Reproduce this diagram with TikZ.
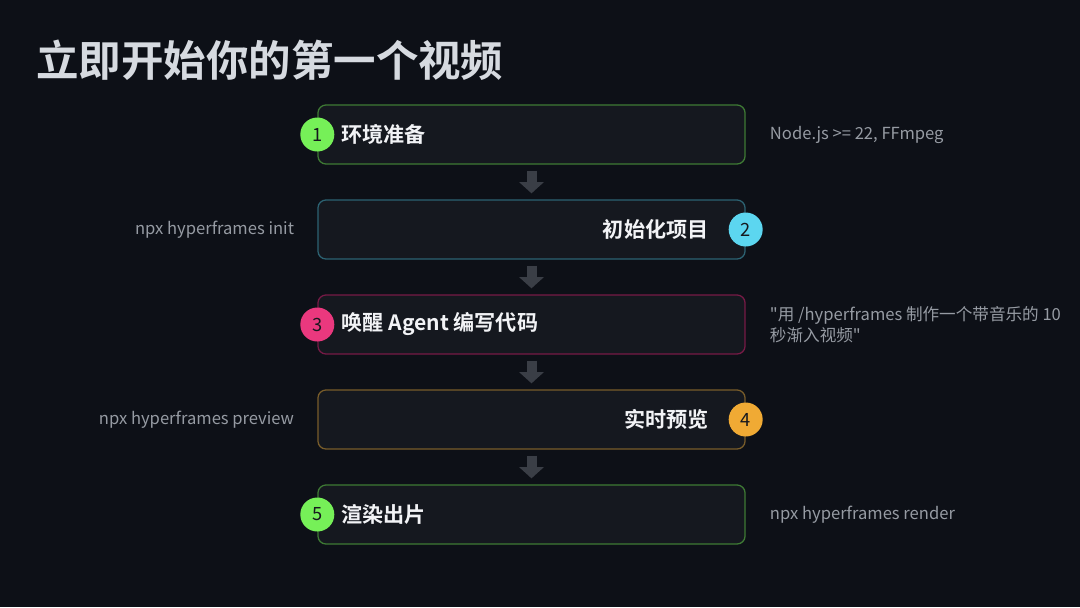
\documentclass[tikz,border=0pt]{standalone}
\usepackage{fontspec}
\setmainfont{Noto Sans CJK SC}[BoldFont={Noto Sans CJK SC Bold}]
\newfontfamily\notefont{Noto Sans CJK SC}
\usetikzlibrary{positioning,arrows.meta}

\definecolor{bgc}{RGB}{13,16,23}
\definecolor{boxc}{RGB}{21,24,31}
\definecolor{bdgreen}{RGB}{62,122,52}
\definecolor{bdteal}{RGB}{44,98,114}
\definecolor{bdpink}{RGB}{118,26,70}
\definecolor{bdgold}{RGB}{120,92,42}
\definecolor{cgreen}{RGB}{118,240,88}
\definecolor{ccyan}{RGB}{92,214,240}
\definecolor{cpink}{RGB}{234,56,126}
\definecolor{cgold}{RGB}{240,170,52}
\definecolor{flowc}{RGB}{58,62,70}
\definecolor{titlec}{RGB}{214,218,224}
\definecolor{textc}{RGB}{242,243,246}
\definecolor{notec}{RGB}{150,155,163}
\definecolor{numc}{RGB}{22,24,30}

\begin{document}
\begin{tikzpicture}[x=0.025cm, y=-0.025cm,
  stepbox/.style={draw, fill=boxc, line width=0.9pt, rounded corners=0.2cm, minimum width=10.675cm, minimum height=1.475cm, inner sep=0pt},
  steptext/.style={text=textc, font=\fontsize{15}{18}\selectfont\bfseries, inner sep=0pt},
  badge/.style={circle, minimum size=0.85cm, inner sep=0pt, text=numc, font=\fontsize{13}{15}\selectfont},
  note/.style={text=notec, font=\notefont\fontsize{11.8}{15}\selectfont, inner sep=0pt},
  flow/.style={flowc, line width=0.25cm, -{Triangle[width=0.6cm, length=0.28cm]}}]
	\fill[bgc] (0,0) rectangle (1080,607);
	\useasboundingbox (0,0) rectangle (1080,607);
	\node[anchor=west, text=titlec, font=\fontsize{30.2}{36}\selectfont\bfseries, inner sep=0pt] (title) at (36,60) {立即开始你的第一个视频};
	% steps
	\node[stepbox, draw=bdgreen] (s1) at (531.5,134.5) {};
	\node[stepbox, draw=bdteal] (s2) at (531.5,229.5) {};
	\node[stepbox, draw=bdpink] (s3) at (531.5,324.5) {};
	\node[stepbox, draw=bdgold] (s4) at (531.5,419.5) {};
	\node[stepbox, draw=bdgreen] (s5) at (531.5,514.5) {};
	\node[steptext, right=0.6cm of s1.west] (t1) {环境准备};
	\node[steptext, left=0.925cm of s2.east] (t2) {初始化项目};
	\node[steptext, right=0.6cm of s3.west] (t3) {唤醒 Agent 编写代码};
	\node[steptext, left=0.925cm of s4.east] (t4) {实时预览};
	\node[steptext, right=0.6cm of s5.west] (t5) {渲染出片};
	\node[badge, fill=cgreen] (n1) at (s1.west) {1};
	\node[badge, fill=ccyan] (n2) at (s2.east) {2};
	\node[badge, fill=cpink] (n3) at (s3.west) {3};
	\node[badge, fill=cgold] (n4) at (s4.east) {4};
	\node[badge, fill=cgreen] (n5) at (s5.west) {5};
	% arrows
	\draw[flow] ([yshift=-0.15cm]s1.south) -- ([yshift=0.15cm]s2.north);
	\draw[flow] ([yshift=-0.15cm]s2.south) -- ([yshift=0.15cm]s3.north);
	\draw[flow] ([yshift=-0.15cm]s3.south) -- ([yshift=0.15cm]s4.north);
	\draw[flow] ([yshift=-0.15cm]s4.south) -- ([yshift=0.15cm]s5.north);
	% notes
	\node[note, right=0.6cm of s1.east] (m1) {Node.js >= 22, FFmpeg};
	\node[note, left=0.575cm of s2.west] (m2) {npx hyperframes init};
	\node[note, right=0.6cm of s3.east, align=left] (m3) {"用 /hyperframes 制作一个带音乐的 10\\秒渐入视频"};
	\node[note, left=0.575cm of s4.west] (m4) {npx hyperframes preview};
	\node[note, right=0.6cm of s5.east] (m5) {npx hyperframes render};
\end{tikzpicture}
\end{document}
